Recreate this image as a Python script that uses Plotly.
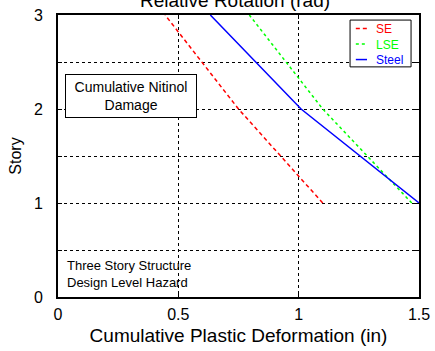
import plotly.graph_objects as go

# Story levels and cumulative plastic deformation (in) per system
story = [1, 2, 3]
se_def = [1.10, 0.75, 0.445]
lse_def = [1.47, 1.10, 0.795]
steel_def = [1.50, 1.01, 0.633]

series_names = ["SE", "LSE", "Steel"]
series_colors = ["#ff0000", "#00ff00", "#0000ff"]
series_dash = ["4px,3px", "dot", "solid"]

x_ticks = [0, 0.5, 1, 1.5]
x_tick_text = ["0", "0.5", "1", "1.5"]
y_ticks = [0, 0.5, 1, 1.5, 2, 2.5, 3]
y_tick_text = ["0", "", "1", "", "2", "", "3"]

FONT = "Liberation Sans, Arial, sans-serif"

fig = go.Figure()
for name, xs, color, dash in zip(series_names, [se_def, lse_def, steel_def],
                                 series_colors, series_dash):
    fig.add_trace(go.Scatter(x=xs, y=story, mode="lines", name=name,
                             showlegend=False,
                             line=dict(color=color, width=1.5, dash=dash)))

axis_common = dict(
    showline=True, linecolor="black", linewidth=2, mirror="ticks",
    ticks="inside", ticklen=4, tickcolor="black", automargin=False,
    showgrid=True, gridcolor="black", gridwidth=1, griddash="dot",
    zeroline=False, tickfont=dict(size=16, color="black", family=FONT),
)

fig.update_xaxes(range=[0, 1.5], tickvals=x_ticks, ticktext=x_tick_text,
                 ticklabelstandoff=2,
                 title=dict(text="Cumulative Plastic Deformation (in)",
                            font=dict(size=19, color="black", family=FONT),
                            standoff=6),
                 **axis_common)
fig.update_yaxes(range=[0, 3], tickvals=y_ticks, ticktext=y_tick_text,
                 ticklabelstandoff=10,
                 title=dict(text="Story",
                            font=dict(size=16, color="black", family=FONT),
                            standoff=8),
                 **axis_common)

# Text boxes inside the plot
fig.add_annotation(x=0.202, y=0.711, xref="paper", yref="paper",
                   text="Cumulative Nitinol<br>Damage", showarrow=False,
                   font=dict(size=14, color="black", family=FONT),
                   width=122, height=34,
                   bordercolor="black", borderwidth=1, borderpad=4,
                   bgcolor="white", xanchor="center", yanchor="middle", align="center")
fig.add_annotation(x=0.019, y=0.080, xref="paper", yref="paper",
                   text="Three Story Structure<br>Design Level Hazard", showarrow=False,
                   font=dict(size=13, color="black", family=FONT),
                   xanchor="left", yanchor="middle", align="left")

# Legend: framed box, line samples and coloured labels
fig.add_shape(type="rect", xref="paper", yref="paper",
              x0=0.809, x1=0.978, y0=0.816, y1=0.982,
              line=dict(color="black", width=1), fillcolor="white", layer="above")
legend_y = [0.952, 0.897, 0.842]
for color, dash, ly in zip(series_colors, series_dash, legend_y):
    fig.add_shape(type="line", xref="paper", yref="paper",
                  x0=0.825, x1=0.856, y0=ly, y1=ly, layer="above",
                  line=dict(color=color, width=1.5, dash=dash))
legend_text = "<br>".join(
    f"<span style='color:{c}'>{n}</span>" for n, c in zip(series_names, series_colors)
)
fig.add_annotation(x=0.878, y=legend_y[1], xref="paper", yref="paper",
                   text=legend_text, showarrow=False, xanchor="left", yanchor="middle",
                   align="left", borderpad=0,
                   font=dict(size=12, family=FONT))

fig.update_layout(
    width=435, height=351,
    margin=dict(l=58, r=16, t=15, b=54),
    paper_bgcolor="white", plot_bgcolor="white",
    font=dict(family=FONT, color="black"),
    title=dict(text="Relative Rotation (rad)", x=235 / 435, xanchor="center",
               xref="container", yref="container", y=1.0, yanchor="middle",
               font=dict(size=19, color="black", family=FONT)),
    showlegend=False,
)

fig.write_html("out.html")
